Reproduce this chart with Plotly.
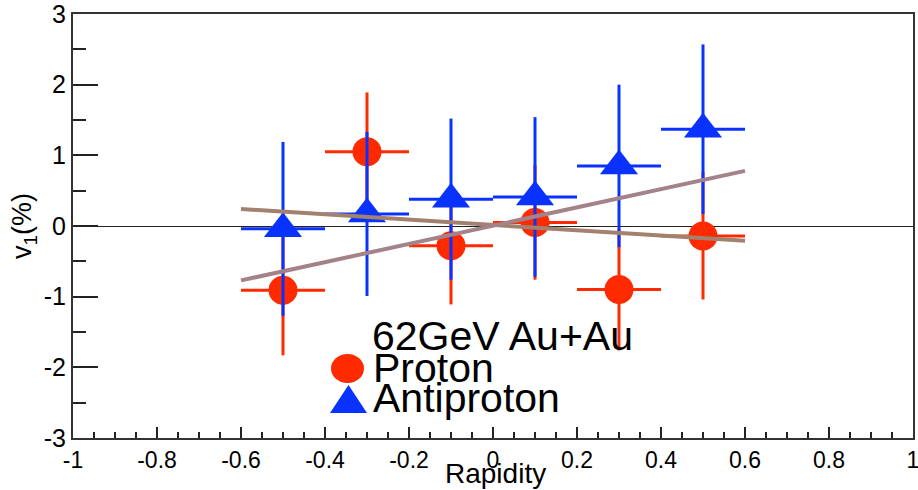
import plotly.graph_objects as go

# ---- data ----
rapidity = [-0.5, -0.3, -0.1, 0.1, 0.3, 0.5]
rap_err = [0.1, 0.1, 0.1, 0.1, 0.1, 0.1]

proton_v1 = [-0.91, 1.05, -0.28, 0.05, -0.90, -0.14]
proton_err = [0.92, 0.84, 0.83, 0.81, 0.86, 0.90]

antiproton_v1 = [-0.04, 0.17, 0.38, 0.41, 0.85, 1.37]
antiproton_err = [1.23, 1.16, 1.14, 1.13, 1.15, 1.20]

fit_x = [-0.6, 0.6]
antiproton_fit = [-0.77, 0.78]
proton_fit = [0.24, -0.21]

x_tickvals = [-1, -0.8, -0.6, -0.4, -0.2, 0, 0.2, 0.4, 0.6, 0.8, 1]
x_ticktext = ["-1", "-0.8", "-0.6", "-0.4", "-0.2", "0", "0.2", "0.4", "0.6", "0.8", "1"]
y_tickvals = [-3, -2, -1, 0, 1, 2, 3]
y_ticktext = ["-3", "-2", "-1", "0", "1", "2", "3"]

RED = "#ff2a00"
BLUE = "#0a32ff"
FONT = "Liberation Sans, Arial, sans-serif"

fig = go.Figure()

fig.add_trace(go.Scatter(
    x=rapidity, y=proton_v1, mode="markers",
    marker=dict(symbol="circle", size=29, color=RED),
    error_y=dict(type="data", array=proton_err, color=RED, thickness=3, width=0),
    error_x=dict(type="data", array=rap_err, color=RED, thickness=3, width=0),
    showlegend=False,
))
fig.add_trace(go.Scatter(
    x=rapidity, y=antiproton_v1, mode="markers",
    marker=dict(symbol="triangle-up", size=33, color=BLUE),
    error_y=dict(type="data", array=antiproton_err, color=BLUE, thickness=3, width=0),
    error_x=dict(type="data", array=rap_err, color=BLUE, thickness=3, width=0),
    showlegend=False,
))
fig.add_trace(go.Scatter(
    x=fit_x, y=proton_fit, mode="lines",
    line=dict(color="#a2826f", width=4), showlegend=False,
))
fig.add_trace(go.Scatter(
    x=fit_x, y=antiproton_fit, mode="lines",
    line=dict(color="#a3828a", width=4), showlegend=False,
))

# ---- layout geometry (pixels) ----
W, H = 918, 490
L, R, T, B = 73, 5, 14, 52
pw, ph = W - L - R, H - T - B


def px(xp):
    return (xp - L) / pw


def py(yp):
    return (H - B - yp) / ph


shapes = [
    # legend ellipse (Proton)
    dict(type="circle", xref="paper", yref="paper",
         x0=px(331), x1=px(364), y0=py(383), y1=py(354),
         fillcolor=RED, line=dict(width=0)),
    # legend triangle (Antiproton)
    dict(type="path", xref="paper", yref="paper",
         path=f"M {px(330)},{py(413)} L {px(367)},{py(413)} L {px(348.5)},{py(385)} Z",
         fillcolor=BLUE, line=dict(width=0)),
]

LEG = 41
annotations = [
    dict(text="62GeV Au+Au", xref="paper", yref="paper", x=px(370), y=py(336),
         xanchor="left", yanchor="middle", showarrow=False,
         font=dict(family=FONT, size=LEG, color="black")),
    dict(text="Proton", xref="paper", yref="paper", x=px(371), y=py(368),
         xanchor="left", yanchor="middle", showarrow=False,
         font=dict(family=FONT, size=LEG, color="black")),
    dict(text="Antiproton", xref="paper", yref="paper", x=px(371), y=py(398),
         xanchor="left", yanchor="middle", showarrow=False,
         font=dict(family=FONT, size=LEG, color="black")),
    # x-axis title
    dict(text="Rapidity", xref="paper", yref="paper", x=px(495), y=py(491),
         xanchor="center", yanchor="bottom", showarrow=False,
         font=dict(family=FONT, size=28, color="black")),
]

fig.update_layout(
    width=W, height=H,
    margin=dict(l=L, r=R, t=T, b=B, pad=0, autoexpand=False),
    paper_bgcolor="white", plot_bgcolor="white",
    font=dict(family=FONT, color="black"),
    shapes=shapes, annotations=annotations,
    showlegend=False,
)

fig.update_xaxes(
    range=[-1, 1], tickvals=x_tickvals, ticktext=x_ticktext,
    ticks="inside", ticklen=11, tickwidth=1.5, tickcolor="#222",
    minor=dict(ticks="inside", ticklen=6, dtick=0.05, tick0=-1, tickcolor="#222", tickwidth=1.5),
    showline=True, linecolor="#333", linewidth=2, mirror=True,
    showgrid=False, zeroline=False, ticklabeloverflow="allow", automargin=False,
    tickfont=dict(family=FONT, size=23),
)
fig.update_yaxes(
    range=[-3, 3], tickvals=y_tickvals, ticktext=y_ticktext,
    ticks="inside", ticklen=25, tickwidth=1.5, tickcolor="#222",
    minor=dict(ticks="inside", ticklen=13, dtick=0.5, tick0=-3, tickcolor="#222", tickwidth=1.5),
    showline=True, linecolor="#333", linewidth=2, mirror=True,
    showgrid=False, zeroline=True, zerolinecolor="#222", zerolinewidth=1,
    ticklabeloverflow="allow", automargin=False,
    tickfont=dict(family=FONT, size=25),
    title=dict(text="v<sub>1</sub>(%)", font=dict(family=FONT, size=27), standoff=4),
)

fig.write_html("out.html")
